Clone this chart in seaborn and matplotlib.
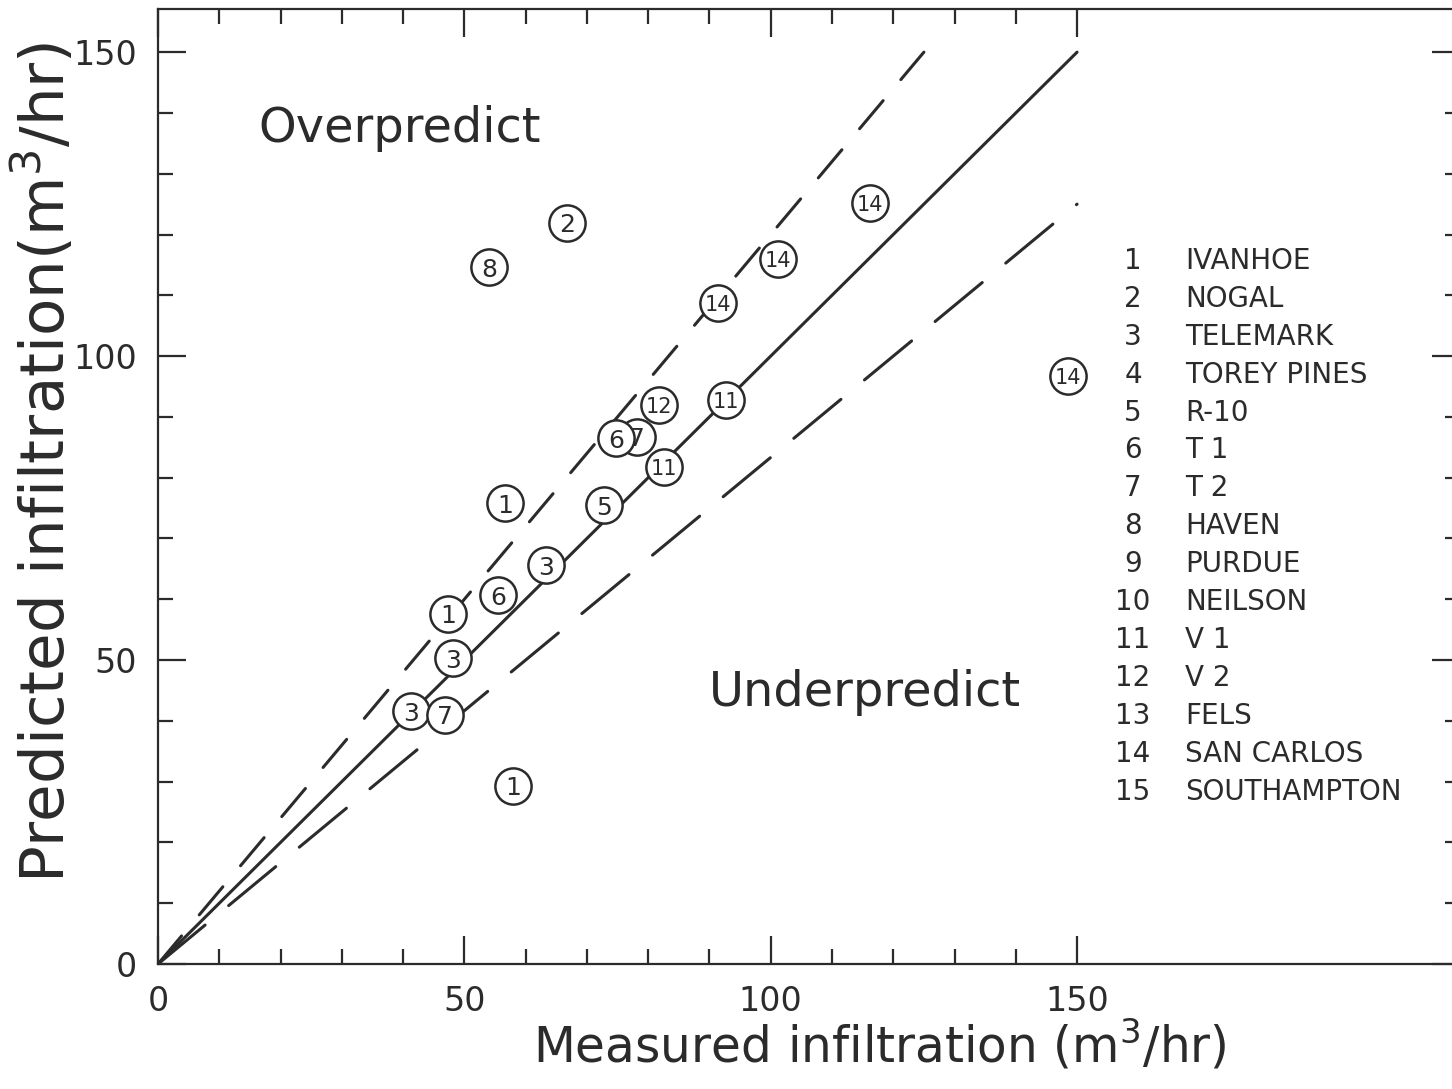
import numpy as np
import pandas as pd
import matplotlib
matplotlib.use("Agg")
import matplotlib.pyplot as plt
import seaborn as sns
from matplotlib.ticker import FixedLocator

# circled points: site number, measured, predicted (m3/hr)
site_ids = [2, 8, 14, 14, 14, 14, 12, 11, 7, 6, 11, 1, 5, 3, 6, 1, 3, 3, 7, 1]
measured = [66.7, 54.0, 116.2, 101.2, 91.4, 148.5, 81.8, 92.7, 78.2, 74.8,
            82.6, 56.6, 72.8, 63.3, 55.5, 47.3, 48.1, 41.3, 46.8, 57.9]
predicted = [121.9, 114.6, 125.2, 116.0, 108.7, 96.7, 91.9, 92.8, 86.7, 86.5,
             81.7, 75.8, 75.5, 65.6, 60.7, 57.6, 50.3, 41.6, 41.0, 29.3]

site_names = ["IVANHOE", "NOGAL", "TELEMARK", "TOREY PINES", "R-10", "T 1",
              "T 2", "HAVEN", "PURDUE", "NEILSON", "V 1", "V 2", "FELS",
              "SAN CARLOS", "SOUTHAMPTON"]

# 1:1 line and +/-20% bounds
one_to_one_x = [0, 150]
over_x = [0, 125]
under_x = [0, 150]
bound_factor = 1.2

df = pd.DataFrame({"site": site_ids, "measured": measured, "predicted": predicted})

sns.set_theme(style="ticks")
plt.rcParams["font.family"] = ["DejaVu Sans"]
ink = "#2b2b2b"

fig = plt.figure(figsize=(14.52, 10.89), dpi=100)
ax = fig.add_axes([158 / 1452, 125 / 1089, 1302 / 1452, 955 / 1089])

ax.plot(one_to_one_x, one_to_one_x, color=ink, lw=2.2, solid_capstyle="round")
ax.plot(over_x, [v * bound_factor for v in over_x], color=ink, lw=2.2,
        dashes=(12, 9), dash_capstyle="round")
ax.plot(under_x, [v / bound_factor for v in under_x], color=ink, lw=2.2,
        dashes=(20, 10), dash_capstyle="round")

sns.scatterplot(data=df, x="measured", y="predicted", ax=ax, s=680,
                facecolor="white", edgecolor=ink, linewidth=1.8, zorder=3,
                legend=False)
for s, mx, py in zip(site_ids, measured, predicted):
    ax.text(mx, py, str(s), ha="center", va="center_baseline",
            fontsize=18 if s < 10 else 15, color=ink, zorder=4)

ax.set_xlim(0, 212.5)
ax.set_ylim(0, 157.1)

major = [0, 50, 100, 150]
minor = [v for v in range(0, 160, 10) if v not in major]
ax.xaxis.set_major_locator(FixedLocator(major))
ax.xaxis.set_minor_locator(FixedLocator(minor))
ax.yaxis.set_major_locator(FixedLocator(major))
ax.yaxis.set_minor_locator(FixedLocator(minor))
ax.tick_params(which="both", direction="in", top=True, right=True,
               color=ink, width=1.6)
ax.tick_params(which="major", length=20, labelsize=24, labelcolor=ink, pad=15)
ax.tick_params(which="minor", length=11)
for sp in ax.spines.values():
    sp.set_color(ink)
    sp.set_linewidth(1.6)

ax.set_xlabel("Measured infiltration (m$^3$/hr)", fontsize=35, color=ink)
ax.set_ylabel("Predicted infiltration(m$^3$/hr)", fontsize=44, color=ink)
ax.xaxis.set_label_coords(0.5545, -0.085)
ax.yaxis.set_label_coords(-0.087, 0.5257)
ax.xaxis.label.set_va("center")
ax.yaxis.label.set_va("center")

ax.text(0.1856, 0.875, "Overpredict", transform=ax.transAxes, fontsize=34.5,
        ha="center", va="center", color=ink)
ax.text(0.5431, 0.284, "Underpredict", transform=ax.transAxes, fontsize=34.5,
        ha="center", va="center", color=ink)

# site key
for i, name in enumerate(site_names):
    yk = (964 - (261 + i * 37.9)) / 955
    ax.text((1133 - 158) / 1302, yk, str(i + 1), transform=ax.transAxes,
            fontsize=20, ha="center", va="center", color=ink)
    ax.text((1185 - 158) / 1302, yk, name, transform=ax.transAxes,
            fontsize=20, ha="left", va="center", color=ink)

fig.savefig("out.png", dpi=100)
